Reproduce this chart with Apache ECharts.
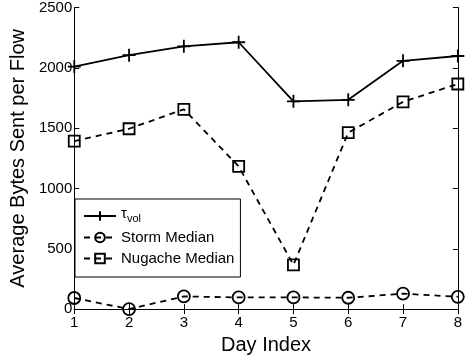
<!DOCTYPE html>
<html>
<head>
<meta charset="utf-8">
<script src="https://cdn.jsdelivr.net/npm/echarts@6/dist/echarts.min.js"></script>
<style>
  html, body { margin: 0; padding: 0; background: #fff; }
  #chart { width: 465px; height: 360px; }
</style>
</head>
<body>
<div id="chart"></div>
<script>
// data
var days = [1, 2, 3, 4, 5, 6, 7, 8];
var tauVol = [2010, 2105, 2178, 2212, 1722, 1735, 2058, 2098];
var stormMedian = [92, 0, 105, 97, 97, 94, 128, 102];
var nugacheMedian = [1392, 1495, 1656, 1183, 367, 1462, 1718, 1866];
var yTicks = ['0', '500', '1000', '1500', '2000', '2500'];

function pairs(vals) {
    return days.map(function(d, i) { return [d, vals[i]]; });
}

var font = '"Liberation Sans", Arial, Helvetica, sans-serif';
var plus = 'path://M0,5L10,5M5,0L5,10';

var chart = echarts.init(document.getElementById('chart'));

var markerStyle = {
    color: 'transparent',
    borderColor: '#000',
    borderWidth: 1.8
};

chart.setOption({
    animation: false,
    backgroundColor: '#fff',
    grid: { left: 69, right: 5, top: 2, bottom: 48 },
    xAxis: [{
        type: 'value', min: 1, max: 8, interval: 1,
        name: 'Day Index', nameLocation: 'middle', nameGap: 21,
        nameTextStyle: { fontFamily: font, fontSize: 20, color: '#000' },
        axisLine: { lineStyle: { color: '#000', width: 1 } },
        axisTick: { inside: true, length: 5, lineStyle: { color: '#000' } },
        axisLabel: { fontFamily: font, fontSize: 15, color: '#000', margin: 6 },
        splitLine: { show: false }
    }, {
        type: 'value', min: 1, max: 8, interval: 1, position: 'top',
        axisLine: { lineStyle: { color: '#000', width: 1 } },
        axisTick: { inside: true, length: 5, lineStyle: { color: '#000' } },
        axisLabel: { show: false },
        splitLine: { show: false }
    }],
    yAxis: [{
        type: 'value', min: 0, max: 2500, interval: 500,
        name: 'Average Bytes Sent per Flow', nameLocation: 'middle', nameGap: 42,
        nameTextStyle: { fontFamily: font, fontSize: 20, color: '#000' },
        axisLine: { show: true, lineStyle: { color: '#000', width: 1 } },
        axisTick: { show: true, inside: true, length: 5, lineStyle: { color: '#000' } },
        axisLabel: { fontFamily: font, fontSize: 15, color: '#000', margin: 2,
            formatter: function(v) { return yTicks[v / 500]; } },
        splitLine: { show: false }
    }, {
        type: 'value', min: 0, max: 2500, interval: 500, position: 'right',
        axisLine: { show: true, lineStyle: { color: '#000', width: 1 } },
        axisTick: { show: true, inside: true, length: 5, lineStyle: { color: '#000' } },
        axisLabel: { show: false },
        splitLine: { show: false }
    }],
    legend: {
        orient: 'vertical',
        left: 75, top: 199,
        width: 162,
        backgroundColor: '#fff',
        borderColor: '#000', borderWidth: 1,
        padding: [7, 6, 11, 8],
        itemWidth: 32, itemHeight: 12, itemGap: 6,
        textStyle: { fontFamily: font, fontSize: 15, color: '#000',
            rich: {
                t: { fontFamily: font, fontSize: 15, color: '#000', padding: [0, 0, 5, 0] },
                s: { fontFamily: font, fontSize: 11, color: '#000', padding: [5, 0, 0, 0] }
            }
        },
        formatter: function(name) {
            return name === 'tau' ? '{t|τ}{s|vol}' : name;
        },
        data: ['tau', 'Storm Median', 'Nugache Median']
    },
    series: [{
        name: 'tau', type: 'line',
        data: pairs(tauVol),
        symbol: plus, symbolSize: 13,
        lineStyle: { color: '#000', width: 1.8, type: 'solid' },
        itemStyle: markerStyle
    }, {
        name: 'Storm Median', type: 'line',
        data: pairs(stormMedian),
        symbol: 'circle', symbolSize: 12,
        lineStyle: { color: '#000', width: 1.8, type: [6, 5] },
        itemStyle: markerStyle
    }, {
        name: 'Nugache Median', type: 'line',
        data: pairs(nugacheMedian),
        symbol: 'rect', symbolSize: 11,
        lineStyle: { color: '#000', width: 1.8, type: [6, 5] },
        itemStyle: markerStyle
    }]
});
</script>
</body>
</html>
